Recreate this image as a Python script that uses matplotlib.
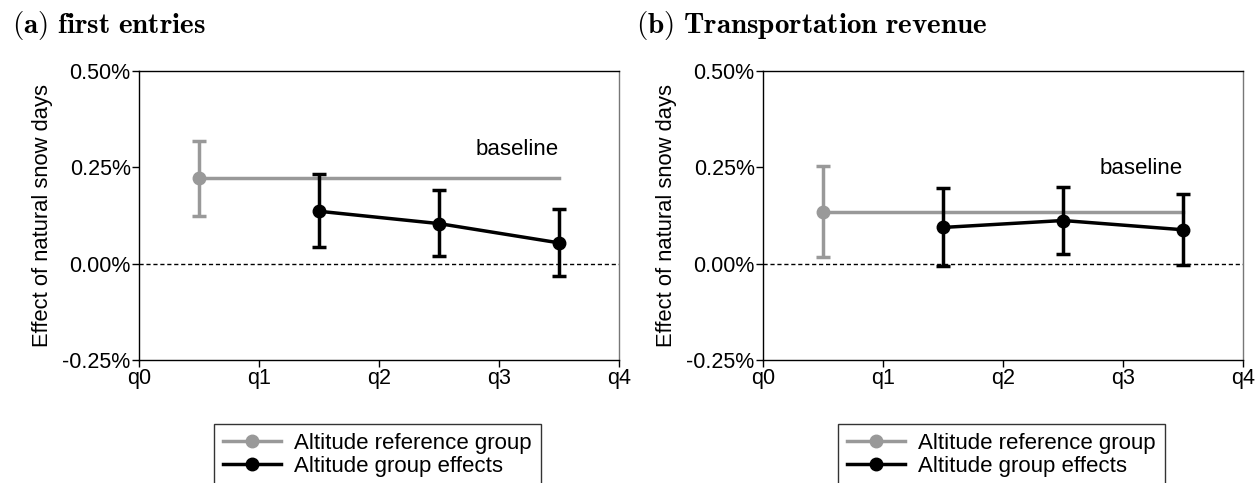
import matplotlib.pyplot as plt
from matplotlib.lines import Line2D
from matplotlib.ticker import FuncFormatter

plt.rcParams["font.family"] = ["Liberation Sans", "DejaVu Sans"]
plt.rcParams["mathtext.fontset"] = "cm"

# ---- data (in %) ----
quartile_labels = ["q0", "q1", "q2", "q3", "q4"]
ref_x = [0.5]
grp_x = [1.5, 2.5, 3.5]

# (a) first entries
a_ref = [0.222]
a_ref_lo = [0.125]
a_ref_hi = [0.319]
a_grp = [0.136, 0.104, 0.054]
a_grp_lo = [0.043, 0.019, -0.032]
a_grp_hi = [0.232, 0.191, 0.143]

# (b) transportation revenue
b_ref = [0.135]
b_ref_lo = [0.018]
b_ref_hi = [0.253]
b_grp = [0.094, 0.112, 0.088]
b_grp_lo = [-0.006, 0.025, -0.003]
b_grp_hi = [0.197, 0.200, 0.181]

GRAY = "#999999"
W, H = 1257, 483

fig = plt.figure(figsize=(W / 100, H / 100), dpi=100)


def panel(left, title, ref, ref_lo, ref_hi, grp, grp_lo, grp_hi, base_y, leg_left):
    ax = fig.add_axes([left / W, (H - 360) / H, 480 / W, 289 / H])
    ax.axhline(0, color="black", lw=1, ls=(0, (3, 2)), zorder=1)
    # baseline
    ax.plot([ref_x[0], grp_x[-1]], [ref[0], ref[0]], color=GRAY, lw=2.5, zorder=2)
    ax.errorbar(ref_x, ref,
                yerr=[[r - l for r, l in zip(ref, ref_lo)], [h - r for r, h in zip(ref, ref_hi)]],
                fmt="o", color=GRAY, ms=9, elinewidth=2.5, capsize=5, capthick=2.5, zorder=3)
    ax.errorbar(grp_x, grp,
                yerr=[[g - l for g, l in zip(grp, grp_lo)], [h - g for g, h in zip(grp, grp_hi)]],
                fmt="-o", color="black", ms=9, lw=2.5, elinewidth=2.5, capsize=5, capthick=2.5,
                zorder=4)
    ax.text(grp_x[-1], base_y, "baseline", ha="right", va="center", fontsize=16)

    ax.set_xlim(0, 4)
    ax.set_ylim(-0.25, 0.5)
    ax.set_xticks(range(5))
    ax.set_xticklabels(quartile_labels)
    ax.set_yticks([-0.25, 0, 0.25, 0.5])
    ax.yaxis.set_major_formatter(FuncFormatter(lambda v, p: f"{v:.2f}%"))
    ax.tick_params(labelsize=15.5, length=5, width=1, pad=1)
    ax.set_ylabel("Effect of natural snow days", fontsize=15.8)
    ax.yaxis.set_label_coords(-0.18, 0.5)
    for s in ax.spines.values():
        s.set_linewidth(1)
    ax.spines["right"].set_color("#777777")

    fig.text((left - 127) / W, (H - 26) / H, title, fontsize=21, va="center", ha="left")

    handles = [
        Line2D([], [], color=GRAY, lw=2.5, marker="o", ms=9),
        Line2D([], [], color="black", lw=2.5, marker="o", ms=9),
    ]
    fig.legend(handles, ["Altitude reference group", "Altitude group effects"],
               loc="upper left", bbox_to_anchor=(leg_left / W, (H - 424) / H),
               fontsize=16, frameon=True, fancybox=False, edgecolor="black",
               handlelength=2.6, handletextpad=0.6, borderpad=0.4, labelspacing=0.1,
               borderaxespad=0)


panel(139, r"$\mathbf{(a)\ first\ entries}$", a_ref, a_ref_lo, a_ref_hi,
      a_grp, a_grp_lo, a_grp_hi, 0.297, 214)
panel(763, r"$\mathbf{(b)\ Transportation\ revenue}$", b_ref, b_ref_lo, b_ref_hi,
      b_grp, b_grp_lo, b_grp_hi, 0.246, 838)

fig.savefig("out.png", dpi=100)
